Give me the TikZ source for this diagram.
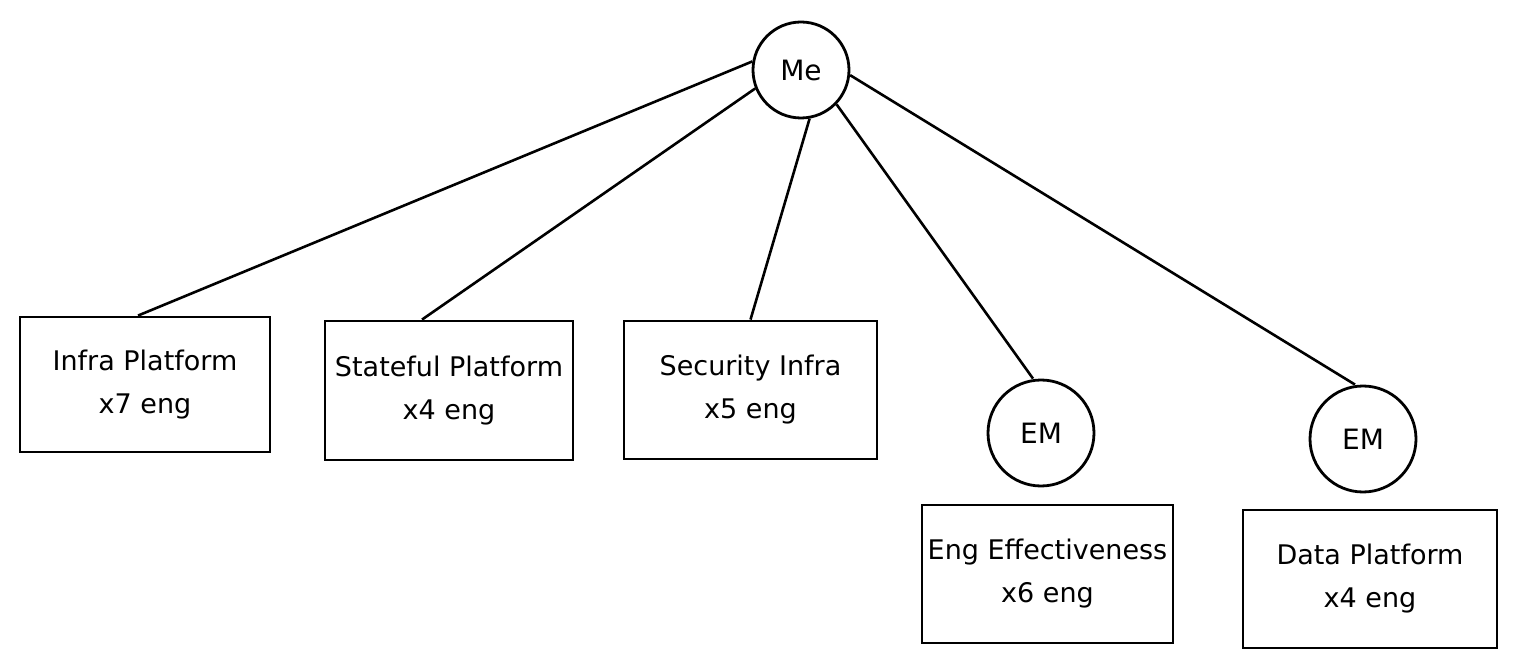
\documentclass[tikz,border=0pt]{standalone}
\usepackage{fontspec}
\setmainfont{DejaVu Sans}
\begin{document}
\begin{tikzpicture}[x=1pt,y=-1pt,
  team/.style={draw,line width=2.8pt,rectangle,minimum width=250pt,minimum height=136pt,align=center,font=\fontsize{27}{43}\selectfont,inner sep=0pt},
  person/.style={draw,line width=2.8pt,circle,inner sep=0pt,font=\fontsize{28}{30}\selectfont},
  link/.style={line width=2.6pt}]
\useasboundingbox (0,0) rectangle (1513,668);
\node[person,minimum size=96pt] (me) at (801,70) {Me};
\node[person,minimum size=106pt] (em1) at (1041,433) {EM};
\node[person,minimum size=106pt] (em2) at (1363,439) {EM};
\node[team,minimum height=135pt] (b1) at (145,384.5) {Infra Platform\\x7 eng};
\node[team,minimum width=248pt,minimum height=139pt] (b2) at (449,390.5) {Stateful Platform\\x4 eng};
\node[team,minimum width=253pt,minimum height=138pt] (b3) at (750.5,390) {Security Infra\\x5 eng};
\node[team,minimum width=251pt,minimum height=138pt] (b4) at (1047.5,574) {Eng Effectiveness\\x6 eng};
\node[team,minimum width=254pt,minimum height=138pt] (b5) at (1370,579) {Data Platform\\x4 eng};
\draw[link] (me.170) -- ([xshift=-7pt]b1.north);
\draw[link] (me.202) -- ([xshift=-27pt]b2.north);
\draw[link] (me.280) -- (b3.north);
\draw[link] (me.316) -- ([xshift=-8pt]em1.north);
\draw[link] (me.354) -- ([xshift=-8pt]em2.north);
\end{tikzpicture}
\end{document}
